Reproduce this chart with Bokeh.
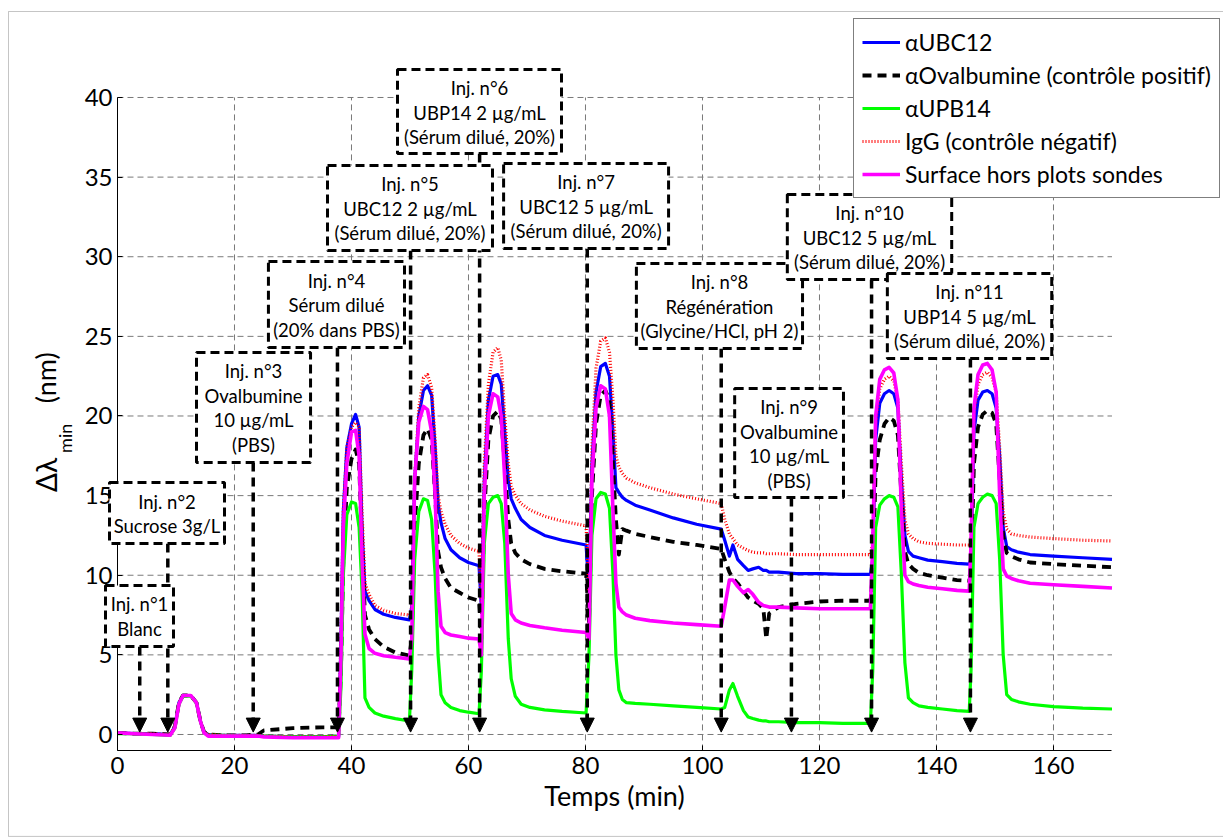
from bokeh.plotting import figure
from bokeh.models import (Range1d, FixedTicker, BoxAnnotation, Label, Arrow, LinearAxis,
                          NormalHead, ColumnDataSource)
from bokeh.embed import file_html
from bokeh.resources import INLINE

FONT = "Lato"

# ---------------- data ----------------
time_min = [0, 3, 6, 9, 9.8, 10.5, 11.2, 12.5, 13.5, 14.2, 14.8, 15.5, 18, 22, 24, 25, 30, 35, 37.8,
            38.2, 38.6, 39.2, 40.0, 40.7, 41.3, 41.8, 42.3, 43, 44, 45.5, 47.5, 49.9,
            50.3, 50.8, 51.5, 52.3, 53.0, 53.7, 54.3, 54.8, 55.3, 56, 57, 58.5, 60, 61.8,
            62.2, 62.7, 63.4, 64.2, 65.0, 65.6, 66.2, 66.8, 67.3, 68, 69, 70.5, 73, 76, 80.1,
            80.6, 81.1, 81.8, 82.6, 83.4, 84.1, 84.7, 85.2, 85.7, 86.3, 87, 88.5, 91, 95, 99, 103.2,
            103.8, 104.6, 105.2, 106, 107, 107.8, 108.6, 109.6, 110.4, 110.9, 111.4, 113, 116, 120, 124, 128.7,
            129.1, 129.6, 130.3, 131.1, 131.9, 132.7, 133.4, 134, 134.6, 135.2, 136, 137, 138.5, 141, 143.5, 145.6,
            145.9, 146.4, 147.1, 147.9, 148.7, 149.5, 150.2, 150.8, 151.4, 152, 152.8, 154, 156, 160, 165, 170]

ubc12 = [0.1, 0.05, 0.05, 0.0, 0.5, 2.0, 2.45, 2.45, 2.0, 0.8, 0.15, 0.0, -0.05, -0.05, -0.05, -0.1, -0.15, -0.15, -0.1,
         6, 14, 18, 19.5, 20.1, 19.3, 13, 9.0, 8.4, 7.85, 7.55, 7.35, 7.2,
         8, 16, 20, 21.6, 21.9, 21.3, 18, 14.5, 13.3, 12.3, 11.6, 11.1, 10.8, 10.6,
         8, 16, 21, 22.5, 22.6, 22, 19, 16, 14.8, 14.2, 13.5, 13.0, 12.5, 12.2, 11.9,
         9, 17, 21.5, 23.1, 23.3, 22.5, 19, 15.5, 15.2, 14.9, 14.7, 14.4, 14.1, 13.6, 13.2, 12.9,
         12.2, 11.2, 11.9, 11.0, 10.6, 10.3, 10.4, 10.5, 10.3, 10.3, 10.2, 10.2, 10.1, 10.1, 10.05, 10.05,
         11, 18.5, 20.8, 21.4, 21.6, 21.4, 20.5, 16, 12.5, 11.5, 11.2, 11.1, 10.95, 10.85, 10.75, 10.7,
         11, 19, 21, 21.5, 21.6, 21.4, 20.5, 17.5, 13, 11.8, 11.6, 11.45, 11.3, 11.2, 11.1, 11.0]

ovalbumine = [0.1, 0.05, 0.05, 0.0, 0.5, 2.0, 2.45, 2.45, 2.0, 0.8, 0.15, 0.0, -0.05, -0.05, 0.0, 0.25, 0.4, 0.45, 0.45,
              4, 11, 15.5, 17.3, 17.9, 17, 12, 7.5, 6.6, 6.0, 5.5, 5.15, 4.95,
              6, 13, 17, 18.8, 19.2, 18.5, 15, 11.5, 10.5, 9.8, 9.2, 8.9, 8.6, 8.4,
              6, 14, 18.5, 20, 20.3, 19.8, 17, 13.5, 12, 11.4, 11.0, 10.7, 10.4, 10.25, 10.1,
              7, 15, 19.5, 21.3, 21.6, 21, 17, 13.5, 11.3, 12.9, 12.8, 12.6, 12.4, 12.1, 11.9, 11.65,
              11.0, 10.2, 9.8, 9.5, 9.0, 8.6, 8.4, 8.2, 7.9, 6.0, 7.6, 8.0, 8.2, 8.35, 8.4, 8.4,
              10, 16.5, 18.5, 19.5, 19.9, 19.7, 18.8, 15, 11.5, 10.7, 10.4, 10.15, 10.0, 9.85, 9.7, 9.65,
              10, 17, 19.3, 20.1, 20.35, 20.2, 19.5, 16, 12.5, 11.4, 11.2, 11.0, 10.8, 10.7, 10.6, 10.5]

upb14 = [0.05, 0.05, 0.0, -0.05, 0.4, 1.9, 2.4, 2.4, 2.0, 0.8, 0.1, -0.05, -0.05, -0.1, -0.1, -0.1, -0.15, -0.15, -0.1,
         3, 10, 13.8, 14.6, 14.5, 13, 9, 2.3, 1.7, 1.35, 1.15, 1.0, 0.85,
         4, 11, 14, 14.8, 14.7, 13.5, 10, 5, 2.5, 2.0, 1.7, 1.5, 1.4, 1.3,
         4, 12, 14.5, 14.9, 15.0, 14.5, 12, 6, 3.5, 2.4, 1.9, 1.7, 1.55, 1.45, 1.35,
         5, 12.5, 14.8, 15.2, 15.1, 14.2, 10, 5, 2.8, 2.2, 2.0, 1.95, 1.9, 1.8, 1.7, 1.6,
         1.7, 2.8, 3.2, 2.4, 1.5, 1.1, 1.0, 0.9, 0.85, 0.85, 0.8, 0.8, 0.75, 0.75, 0.7, 0.7,
         4, 13, 14.4, 14.8, 15.0, 14.9, 14.3, 10, 4.5, 2.3, 2.0, 1.8, 1.7, 1.6, 1.5, 1.45,
         4, 13, 14.5, 14.9, 15.1, 15.0, 14.5, 11, 5, 2.5, 2.2, 2.05, 1.9, 1.75, 1.65, 1.6]

igg = [0.1, 0.05, 0.05, 0.0, 0.5, 2.0, 2.45, 2.45, 2.0, 0.8, 0.15, 0.0, -0.05, -0.05, -0.05, -0.1, -0.15, -0.15, -0.1,
       6, 14, 18, 19.3, 19.6, 19.3, 14, 9.5, 8.8, 8.1, 7.8, 7.6, 7.5,
       8, 16, 20.5, 22.4, 22.6, 21.8, 18.5, 15, 14, 13.2, 12.5, 12.0, 11.7, 11.5,
       8, 17, 22, 24.0, 24.3, 23.5, 20, 17, 15.6, 15.0, 14.5, 14.1, 13.7, 13.4, 13.1,
       9, 18, 23, 24.7, 24.9, 24, 21, 17.5, 16.8, 16.4, 16.1, 15.8, 15.5, 15.1, 14.8, 14.5,
       13.5, 12.6, 12.3, 11.9, 11.7, 11.55, 11.45, 11.4, 11.4, 11.35, 11.35, 11.35, 11.3, 11.3, 11.3, 11.3,
       12, 19.5, 21.7, 22.3, 22.5, 22.2, 21, 17, 13.5, 12.6, 12.3, 12.1, 12.0, 11.95, 11.9, 11.9,
       12, 20, 22, 22.6, 22.75, 22.4, 21.5, 18, 14, 12.9, 12.6, 12.5, 12.4, 12.3, 12.2, 12.15]

surface = [0.1, 0.05, 0.0, -0.05, 0.4, 1.9, 2.45, 2.45, 2.0, 0.8, 0.1, -0.1, -0.1, -0.1, -0.1, -0.15, -0.2, -0.2, -0.2,
           5, 13, 17, 19.0, 19.1, 17.5, 11, 6.3, 5.4, 5.1, 4.95, 4.85, 4.75,
           6, 16, 19.6, 20.6, 20.4, 19, 15, 9, 6.8, 6.4, 6.25, 6.15, 6.05, 6.0,
           5, 15, 20, 21.4, 21.2, 20, 16, 10, 7.6, 7.2, 7.0, 6.85, 6.7, 6.55, 6.4,
           6, 16, 20.5, 21.9, 21.7, 20, 14, 9.5, 8.0, 7.7, 7.5, 7.3, 7.15, 7.0, 6.9, 6.8,
           8.0, 9.7, 9.7, 9.3, 8.9, 9.1, 8.8, 8.3, 8.1, 8.05, 8.0, 8.0, 7.95, 7.9, 7.9, 7.9,
           12, 20, 22.3, 22.9, 23.05, 22.7, 21, 14, 10.0, 9.6, 9.45, 9.35, 9.25, 9.15, 9.05, 9.0,
           12, 20.5, 22.6, 23.2, 23.3, 22.9, 21.5, 15, 10.4, 9.95, 9.8, 9.65, 9.5, 9.4, 9.3, 9.2]

series_names = ["\u03b1UBC12", "\u03b1Ovalbumine (contrôle positif)", "\u03b1UPB14",
                "IgG (contrôle négatif)", "Surface hors plots sondes"]

injection_times = [3.8, 8.6, 23.2, 37.6, 50.1, 61.9, 80.3, 103.2, 115.2, 128.9, 145.8]
injection_texts = [
    ["Inj. n°1", "Blanc"],
    ["Inj. n°2", "Sucrose 3g/L"],
    ["Inj. n°3", "Ovalbumine", "10 µg/mL", "(PBS)"],
    ["Inj. n°4", "Sérum dilué", "(20% dans PBS)"],
    ["Inj. n°5", "UBC12 2 µg/mL", "(Sérum dilué, 20%)"],
    ["Inj. n°6", "UBP14 2 µg/mL", "(Sérum dilué, 20%)"],
    ["Inj. n°7", "UBC12 5 µg/mL", "(Sérum dilué, 20%)"],
    ["Inj. n°8", "Régénération", "(Glycine/HCl, pH 2)"],
    ["Inj. n°9", "Ovalbumine", "10 µg/mL", "(PBS)"],
    ["Inj. n°10", "UBC12 5 µg/mL", "(Sérum dilué, 20%)"],
    ["Inj. n°11", "UBP14 5 µg/mL", "(Sérum dilué, 20%)"],
]
x_ticks = [0, 20, 40, 60, 80, 100, 120, 140, 160]
y_ticks = [0, 5, 10, 15, 20, 25, 30, 35, 40]
x_limits = (0, 170)
y_limits = (-1, 40)

# ---------------- layout (data units of the plot) ----------------
box_left = [-2.05, -1.37, 13.5, 25.8, 35.9, 47.86, 66.0, 88.7, 105.5, 114.5, 131.6]
box_right = [9.57, 18.29, 33.0, 49.06, 64.1, 75.9, 94.2, 117.1, 124.1, 142.6, 159.7]
box_top = [9.36, 15.82, 23.99, 29.70, 35.73, 41.76, 35.86, 29.58, 21.73, 33.91, 28.95]
box_bottom = [5.53, 11.99, 17.08, 24.30, 30.39, 36.48, 30.52, 24.24, 14.88, 28.57, 23.61]
arrow_tip = 0.15

W, H = 1223, 838
# the frame fills the whole canvas; the axes sit at fixed positions inside it
p = figure(width=W, height=H, x_range=Range1d(-20.0, 189.06), y_range=Range1d(-6.531, 46.091),
           output_backend="svg", toolbar_location=None,
           x_axis_location=None, y_axis_location=None,
           min_border_left=0, min_border_right=0, min_border_top=0, min_border_bottom=0)
p.outline_line_color = None
p.center = []

# outer figure border
p.add_layout(BoxAnnotation(left=-18.63, right=200, top=45.40, bottom=-6.40,
                           fill_alpha=0, line_color="#404040", line_width=1))

# dashed grid, limited to the axes box
grid_style = dict(line_color="#7a7a7a", line_dash="6 4", line_width=1)
p.segment(x0=x_ticks[1:], y0=[y_limits[0]] * (len(x_ticks) - 1),
          x1=x_ticks[1:], y1=[y_limits[1]] * (len(x_ticks) - 1), **grid_style)
p.segment(x0=[x_limits[0]] * len(y_ticks), y0=y_ticks,
          x1=[x_limits[1]] * len(y_ticks), y1=y_ticks, **grid_style)

xaxis = LinearAxis(fixed_location=y_limits[0], bounds=x_limits, ticker=FixedTicker(ticks=x_ticks))
yaxis = LinearAxis(fixed_location=x_limits[0], bounds=y_limits, ticker=FixedTicker(ticks=y_ticks))
for ax in (xaxis, yaxis):
    ax.major_label_text_font = FONT
    ax.major_label_text_font_size = "24px"
    ax.major_label_text_color = "black"
    ax.axis_line_color = "black"
    ax.major_tick_in = 5
    ax.major_tick_out = 0
    ax.minor_tick_line_color = None
xaxis.major_label_standoff = 7
yaxis.major_label_standoff = 5
xaxis.axis_label = "Temps (min)"
xaxis.axis_label_text_font = FONT
xaxis.axis_label_text_font_size = "27px"
xaxis.axis_label_text_font_style = "normal"
xaxis.axis_label_text_color = "black"
xaxis.axis_label_standoff = 1
p.add_layout(xaxis, "below")
p.add_layout(yaxis, "left")

# y-axis label with subscript
p.add_layout(Label(x=-12.3, y=16.3, text="\u0394\u03bb", angle=90, angle_units="deg", text_color="black",
                   text_font=FONT, text_font_size="28px", text_align="center", text_baseline="middle"))
p.add_layout(Label(x=-8.9, y=18.6, text="min", angle=90, angle_units="deg", text_color="black",
                   text_font=FONT, text_font_size="18px", text_align="center", text_baseline="middle"))
p.add_layout(Label(x=-12.3, y=22.4, text="(nm)", angle=90, angle_units="deg", text_color="black",
                   text_font=FONT, text_font_size="27px", text_align="center", text_baseline="middle"))

# data lines
styles = [
    dict(line_color="#0000FF", line_width=3.2),
    dict(line_color="black", line_width=3.8, line_dash="9 6"),
    dict(line_color="#00FF00", line_width=3.2),
    dict(line_color="#FF0000", line_width=3.2, line_dash="1 2"),
    dict(line_color="#FF00FF", line_width=3.6),
]
for vals, name, st in zip([ubc12, ovalbumine, upb14, igg, surface], series_names, styles):
    p.line(time_min, vals, legend_label=name, line_join="round", **st)

# arrows
arrow_src = ColumnDataSource(dict(x=injection_times, y0=box_bottom,
                                  y1=[arrow_tip] * len(injection_times)))
p.add_layout(Arrow(end=NormalHead(size=14, fill_color="black", line_color="black", line_width=1),
                   x_start="x", y_start="y0", x_end="x", y_end="y1", source=arrow_src,
                   line_color="black", line_width=3.5, line_dash="9 6"))

# boxes and their text
for i, lines in enumerate(injection_texts):
    p.add_layout(BoxAnnotation(left=box_left[i], right=box_right[i], top=box_top[i], bottom=box_bottom[i],
                               fill_color="white", fill_alpha=1.0, line_color="black",
                               line_width=3, line_dash="9 5", line_alpha=1.0))
    cx = (box_left[i] + box_right[i]) / 2
    for j, txt in enumerate(lines):
        p.add_layout(Label(x=cx, y=box_top[i], y_offset=-(19 + 24.5 * j), text=txt,
                           text_font=FONT, text_font_size="18.5px", text_align="center",
                           text_baseline="middle", text_color="black"))

lg = p.legend[0]
lg.location = (853, 640)
lg.label_text_font = FONT
lg.label_text_font_size = "23px"
lg.label_text_color = "black"
lg.glyph_width = 38
lg.glyph_height = 30
lg.label_height = 30
lg.spacing = 3
lg.padding = 8
lg.margin = 0
lg.label_standoff = 5
lg.border_line_color = "black"
lg.border_line_width = 1
lg.background_fill_alpha = 1.0

open("out.html", "w").write(file_html(p, INLINE))
